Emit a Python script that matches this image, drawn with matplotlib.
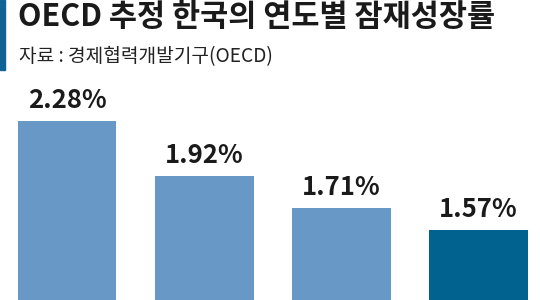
import matplotlib
matplotlib.use("Agg")
import matplotlib.pyplot as plt
from matplotlib.patches import Rectangle

plt.rcParams['font.family'] = ['Noto Sans CJK KR', 'DejaVu Sans']

title = "OECD 추정 한국의 연도별 잠재성장률"
source = "자료 : 경제협력개발기구(OECD)"
values = [2.28, 1.92, 1.71, 1.57]
labels = ["2.28%", "1.92%", "1.71%", "1.57%"]
colors = ["#6899c6", "#6899c6", "#6899c6", "#02628f"]

fig = plt.figure(figsize=(5.4, 3.0), dpi=100)

# 왼쪽 파란 세로 띠
fig.patches.append(Rectangle((0, 1 - 70 / 300), 5 / 540, 70 / 300,
                             transform=fig.transFigure, color="#0f6495", zorder=5))

fig.text(18 / 540, 1 - 17 / 300, title, fontsize=22, fontweight='bold',
         va='center', ha='left', color="#1a1a1a")
fig.text(19 / 540, 1 - 57 / 300, source, fontsize=13.8,
         va='center', ha='left', color="#222222")

ax = fig.add_axes([0, 0, 1, 220 / 300])
x = list(range(len(values)))
ax.bar(x, values, width=0.72, color=colors)
for xi, v, lab in zip(x, values, labels):
    ax.text(xi, v + 0.045, lab, ha='center', va='bottom', fontsize=18.5,
            fontweight='bold', color="#1a1a1a")

ax.set_xlim(-0.49, 3.45)
ax.set_ylim(1.11, 2.55)
ax.axis('off')

fig.savefig("out.png", dpi=100)
